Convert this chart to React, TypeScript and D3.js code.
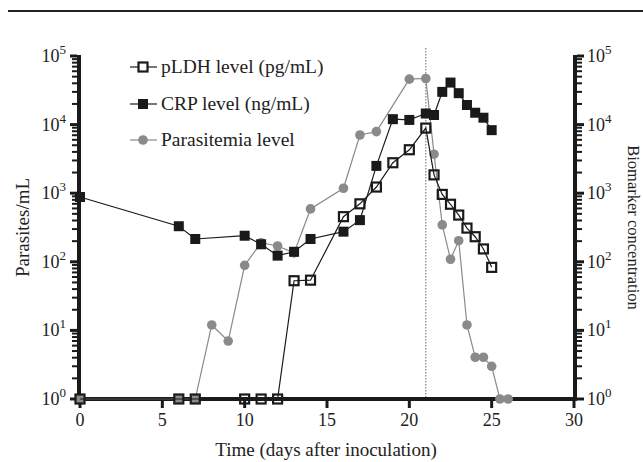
import React from 'react';
import * as d3 from 'd3';

// days after inoculation for each series
const pldhDays = [0, 6, 7, 10, 11, 12, 13, 14, 16, 17, 18, 19, 20, 21, 21.5, 22, 22.5, 23, 23.5, 24, 24.5, 25];
const pldhValues = [1, 1, 1, 1, 1, 1, 53, 54, 455, 700, 1230, 2780, 4300, 8900, 1850, 960, 690, 480, 310, 232, 154, 83];

const crpDays = [0, 6, 7, 10, 11, 12, 13, 14, 16, 17, 18, 19, 20, 21, 21.5, 22, 22.5, 23, 23.5, 24, 24.5, 25];
const crpValues = [880, 330, 215, 240, 180, 123, 140, 215, 275, 405, 2500, 12000, 11700, 14500, 13800, 30000, 41000, 28700, 19300, 14900, 12600, 8300];

const paraDays = [0, 6, 7, 8, 9, 10, 11, 12, 13, 14, 16, 17, 18, 20, 21, 21.5, 22, 22.5, 23, 23.5, 24, 24.5, 25, 25.5, 26];
const paraValues = [1, 1, 1, 12, 7, 89, 190, 170, 135, 590, 1180, 7050, 7900, 46000, 47000, 3700, 345, 109, 203, 12, 4.06, 4.06, 3, 1, 1];

const xTicks = [0, 5, 10, 15, 20, 25, 30];
const decades = [0, 1, 2, 3, 4, 5];
const treatmentDay = 21;

const legendLabels = ['pLDH level (pg/mL)', 'CRP level (ng/mL)', 'Parasitemia level'];

const font = '"Liberation Serif", "Times New Roman", serif';

function App() {
  const width = 643;
  const height = 462;
  const margin = { left: 80, right: 69, top: 56, bottom: 63 };

  const x = d3.scaleLinear().domain([0, 30]).range([margin.left, width - margin.right]);
  const y = d3.scaleLog().domain([1, 1e5]).range([height - margin.bottom, margin.top]);

  const x0 = x(0);
  const x1 = x(30);
  const yBase = y(1);
  const yMid = (yBase + y(1e5)) / 2;

  const minor: number[] = [];
  decades.slice(0, -1).forEach(d => {
    for (let k = 2; k <= 9; k++) minor.push(k * Math.pow(10, d));
  });

  const toPts = (days: number[], vals: number[]) => days.map((d, i) => ({ d, v: vals[i] }));
  const pldh = toPts(pldhDays, pldhValues);
  const crp = toPts(crpDays, crpValues);
  const para = toPts(paraDays, paraValues);

  const line = d3.line<{ d: number; v: number }>().x(p => x(p.d)).y(p => y(p.v));

  const gray = '#8a8a8a';
  const ink = '#1a1a1a';

  const legendY = [67, 104, 140];

  return (
    <svg width={width} height={height} style={{ position: 'absolute', left: 0, top: 0 }} fontFamily={font}>
      <rect width={width} height={height} fill="#fff" />
      <line x1={8} x2={643} y1={11} y2={11} stroke="#222" strokeWidth={2} />

      {/* treatment marker */}
      <line x1={x(treatmentDay)} x2={x(treatmentDay)} y1={48} y2={yBase} stroke="#666" strokeWidth={1} strokeDasharray="1.5,1.5" />

      {/* left axis */}
      <line x1={x0 - 1} x2={x0 - 1} y1={y(1e5) - 1} y2={yBase + 2} stroke={ink} strokeWidth={4} />
      {minor.map(m => (
        <line key={'lm' + m} x1={x0 - 3} x2={x0 - 8} y1={y(m)} y2={y(m)} stroke={ink} strokeWidth={2} />
      ))}
      {decades.map(d => (
        <g key={'ld' + d}>
          <line x1={x0 - 3} x2={x0 - 10} y1={y(Math.pow(10, d))} y2={y(Math.pow(10, d))} stroke={ink} strokeWidth={3} />
          <text x={x0 - 14} y={y(Math.pow(10, d)) + 6} textAnchor="end" fontSize={18} fill="#222">
            10<tspan fontSize={13} dy={-8}>{d}</tspan>
          </text>
        </g>
      ))}

      {/* right axis */}
      <line x1={x1 + 1} x2={x1 + 1} y1={y(1e5) - 1} y2={yBase + 2} stroke={ink} strokeWidth={4} />
      {minor.map(m => (
        <line key={'rm' + m} x1={x1 + 3} x2={x1 + 8} y1={y(m)} y2={y(m)} stroke={ink} strokeWidth={2} />
      ))}
      {decades.map(d => (
        <g key={'rd' + d}>
          <line x1={x1 + 3} x2={x1 + 10} y1={y(Math.pow(10, d))} y2={y(Math.pow(10, d))} stroke={ink} strokeWidth={3} />
          <text x={x1 + 13} y={y(Math.pow(10, d)) + 6} textAnchor="start" fontSize={18} fill="#222">
            10<tspan fontSize={13} dy={-8}>{d}</tspan>
          </text>
        </g>
      ))}

      {/* x axis */}
      <line x1={x0 - 3} x2={x1 + 3} y1={yBase} y2={yBase} stroke={ink} strokeWidth={4} />
      {xTicks.map(t => (
        <g key={'xt' + t}>
          <line x1={x(t)} x2={x(t)} y1={yBase} y2={yBase + 9} stroke={ink} strokeWidth={3} />
          <text x={x(t)} y={yBase + 27} textAnchor="middle" fontSize={18} fill="#222">{t}</text>
        </g>
      ))}

      {/* axis titles */}
      <text x={326} y={456} textAnchor="middle" fontSize={19} fill="#222">Time (days after inoculation)</text>
      <text transform={`translate(29,${yMid}) rotate(-90)`} textAnchor="middle" fontSize={19} fill="#222">Parasites/mL</text>
      <text transform={`translate(628,${yMid}) rotate(90)`} textAnchor="middle" fontSize={16.5} fill="#222">Biomarker concentration</text>

      {/* parasitemia */}
      <path d={line(para) ?? ''} fill="none" stroke={gray} strokeWidth={1.2} />
      {para.map((p, i) => (
        <circle key={'p' + i} cx={x(p.d)} cy={y(p.v)} r={4.8} fill={gray} />
      ))}

      {/* pLDH */}
      <path d={line(pldh) ?? ''} fill="none" stroke={ink} strokeWidth={1.2} />
      {pldh.map((p, i) => (
        <rect key={'l' + i} x={x(p.d) - 4.5} y={y(p.v) - 4.5} width={9} height={9} fill="none" stroke={ink} strokeWidth={2.2} />
      ))}

      {/* CRP */}
      <path d={line(crp) ?? ''} fill="none" stroke={ink} strokeWidth={1.2} />
      {crp.map((p, i) => (
        <rect key={'c' + i} x={x(p.d) - 5} y={y(p.v) - 5} width={10} height={10} fill={ink} />
      ))}

      {/* legend */}
      {legendLabels.map((lab, i) => {
        const ly = legendY[i];
        return (
          <g key={'lg' + i}>
            <line x1={130} x2={157} y1={ly} y2={ly} stroke={i === 2 ? gray : ink} strokeWidth={1.2} />
            {i === 0 && <rect x={138.5} y={ly - 4.5} width={9} height={9} fill="#fff" stroke={ink} strokeWidth={2.2} />}
            {i === 1 && <rect x={138} y={ly - 5} width={10} height={10} fill={ink} />}
            {i === 2 && <circle cx={143} cy={ly} r={4.8} fill={gray} />}
            <text x={161} y={ly + 6} fontSize={19.5} fill="#222">{lab}</text>
          </g>
        );
      })}
    </svg>
  );
}

export default App;
